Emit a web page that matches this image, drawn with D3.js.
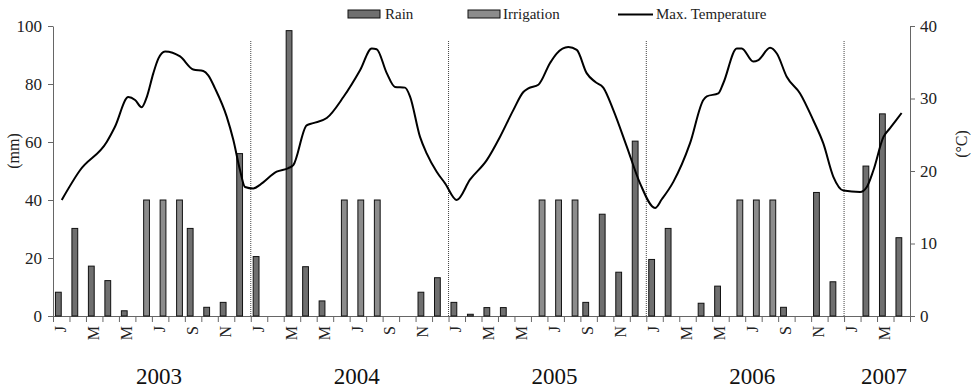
<!DOCTYPE html>
<html>
<head>
<meta charset="utf-8">
<script src="https://cdn.jsdelivr.net/npm/d3@7"></script>
<style>
   body { margin: 0; background: #fff; }
   svg { display: block; }
   text { font-family: "Liberation Serif", "Times New Roman", serif; }
</style>
</head>
<body>
<script>
"use strict"

const years = [2003, 2004, 2005, 2006, 2007]
const monthLetters = ['J', 'F', 'M', 'A', 'M', 'J', 'J', 'A', 'S', 'O', 'N', 'D']
const monthsInYear = [12, 12, 12, 12, 4]

// mm per month, Jan 2003 .. Apr 2007
const rain = [
   8.2, 30.2, 17.2, 12.2, 1.8, 0, 0, 0, 30.2, 3.0, 4.7, 56,
   20.5, 0, 98.4, 17.0, 5.2, 0, 0, 0, 0, 0, 8.2, 13.2,
   4.7, 0.6, 2.9, 2.9, 0, 0, 0, 0, 4.7, 35.1, 15.1, 60.3,
   19.5, 30.2, 0, 4.4, 10.3, 0, 0, 0, 3.0, 0, 42.6, 11.8,
   0, 51.7, 69.7, 27.0
]
const irrigation = [
   0, 0, 0, 0, 0, 40, 40, 40, 0, 0, 0, 0,
   0, 0, 0, 0, 0, 40, 40, 40, 0, 0, 0, 0,
   0, 0, 0, 0, 0, 40, 40, 40, 0, 0, 0, 0,
   0, 0, 0, 0, 0, 40, 40, 40, 0, 0, 0, 0,
   0, 0, 0, 0
]

// max temperature, position in months from start of Jan 2003
const tempMonth = [
   0.53, 1.64, 3.26, 3.76, 4.57, 4.98, 5.38, 5.69, 6.09, 6.39, 6.80, 7.71,
   8.51, 9.12, 9.42, 9.83, 10.54, 10.94, 11.35, 11.65, 12.15, 12.56, 13.57, 14.28,
   14.58, 15.39, 15.79, 16.61, 17.62, 18.63, 19.34, 19.64, 20.25, 20.75, 21.36, 21.66,
   22.27, 22.68, 23.28, 23.79, 24.50, 25.30, 26.32, 27.12, 27.93, 28.54, 28.84, 29.45,
   30.16, 30.56, 31.27, 31.78, 32.38, 32.89, 33.39, 34.00, 34.81, 35.62, 36.53, 36.94,
   37.64, 38.65, 39.46, 39.67, 40.37, 40.67, 41.49, 41.79, 42.49, 42.80, 43.51, 43.92,
   44.52, 45.33, 46.13, 46.74, 47.35, 47.96, 48.97, 49.38, 49.78, 50.39, 50.79, 51.49
]
const tempMax = [
   16.0, 20.1, 24.0, 26.1, 30.2, 29.8, 28.8, 30.2, 33.5, 35.5, 36.5, 35.8,
   34.0, 33.8, 33.2, 31.4, 27.5, 24.3, 20.1, 17.8, 17.6, 18.1, 19.9, 20.4,
   20.8, 26.3, 26.6, 27.3, 30.2, 33.9, 36.9, 36.8, 33.5, 31.6, 31.5, 30.3,
   24.7, 22.4, 19.9, 18.3, 16.0, 18.8, 21.5, 24.7, 28.4, 30.9, 31.4, 31.9,
   34.9, 36.2, 37.1, 36.7, 33.5, 32.3, 31.5, 28.4, 23.4, 18.3, 14.9, 16.1,
   18.5, 23.8, 29.8, 30.3, 30.7, 32.1, 36.9, 36.9, 35.1, 35.3, 37.0, 36.2,
   33.0, 30.7, 27.0, 23.8, 19.2, 17.3, 17.1, 17.8, 20.1, 24.7, 25.9, 28.0
]

const mmTicks = [0, 20, 40, 60, 80, 100]
const degTicks = [0, 10, 20, 30, 40]

const w = 972
const h = 390
const x0 = 53
const x1 = 910
const y_top = 26
const y_bot = 316
const serif = '"Liberation Serif", "Times New Roman", serif'

const months = []
years.forEach((y, yi) => {
   for (let m = 0; m < monthsInYear[yi]; m++) {
      months.push({ year: y, letter: monthLetters[m], index: months.length })
   }
})

const x_band = d3.scaleBand(d3.range(months.length), [x0, x1]).padding(0)
const x_lin = d3.scaleLinear([0, months.length], [x0, x1])
const bw = x_band.bandwidth()
const x_sub = d3.scaleBand(['rain', 'irrigation'], [bw / 2 - 5.8, bw / 2 + 5.8])
const y_mm = d3.scaleLinear([0, 100], [y_bot, y_top])
const y_deg = d3.scaleLinear([0, 40], [y_bot, y_top])

let svg = d3.select('body')
   .append('svg')
      .attr('width', w)
      .attr('height', h)
      .attr('font-family', serif)

svg.append('rect')
   .attr('width', w)
   .attr('height', h)
   .attr('fill', '#fff')

// x axis: ticks between months
let xa = svg.append('g')
   .attr('transform', `translate(0, ${y_bot})`)
   .call(d3.axisBottom(x_lin).tickValues(d3.range(months.length + 1)).tickFormat('').tickSize(6).tickSizeOuter(0))
xa.selectAll('path, line').attr('stroke', '#666')

svg.append('g')
   .selectAll('text')
   .data(months.filter(d => d.index % 2 === 0))
   .enter()
   .append('text')
      .attr('transform', d => `translate(${x_band(d.index) + bw / 2 - 1}, 326) rotate(-90)`)
      .attr('text-anchor', 'end')
      .attr('dy', '0.35em')
      .attr('font-size', 16)
      .attr('font-family', serif)
      .attr('fill', '#222')
      .text(d => d.letter)

let yl = svg.append('g')
   .attr('transform', `translate(${x0}, 0)`)
   .call(d3.axisLeft(y_mm).tickValues(mmTicks).tickSize(5).tickSizeOuter(0).tickPadding(6))
yl.attr('font-family', serif)
yl.selectAll('path, line').attr('stroke', '#666')
yl.selectAll('text').attr('font-size', 17).attr('fill', '#222').attr('font-family', serif)

let yr = svg.append('g')
   .attr('transform', `translate(${x1}, 0)`)
   .call(d3.axisRight(y_deg).tickValues(degTicks).tickSize(5).tickSizeOuter(0).tickPadding(5))
yr.attr('font-family', serif)
yr.selectAll('path, line').attr('stroke', '#666')
yr.selectAll('text').attr('font-size', 17).attr('fill', '#222').attr('font-family', serif)

svg.append('text')
   .attr('transform', 'translate(13, 151) rotate(-90)')
   .attr('text-anchor', 'middle')
   .attr('dy', '0.35em')
   .attr('font-size', 16)
   .attr('fill', '#222')
   .text('(mm)')

svg.append('text')
   .attr('transform', 'translate(961, 144) rotate(-90)')
   .attr('text-anchor', 'middle')
   .attr('dy', '0.35em')
   .attr('font-size', 16)
   .attr('fill', '#222')
   .text('(°C)')

// year separators
svg.append('g')
   .selectAll('line')
   .data(d3.range(1, years.length).map(i => d3.sum(monthsInYear.slice(0, i))))
   .enter()
   .append('line')
      .attr('x1', d => x_lin(d))
      .attr('x2', d => x_lin(d))
      .attr('y1', 41)
      .attr('y2', y_bot)
      .attr('stroke', '#444')
      .attr('stroke-width', 1)
      .attr('stroke-dasharray', '1,1')

const fills = { rain: '#6f6f6f', irrigation: '#8c8c8c' }
const series = [['rain', rain], ['irrigation', irrigation]]

series.forEach(([key, vals]) => {
   svg.append('g')
      .selectAll('rect')
      .data(vals.map((v, i) => ({ i, v })).filter(d => d.v > 0))
      .enter()
      .append('rect')
         .attr('x', d => x_band(d.i) + x_sub(key))
         .attr('y', d => y_mm(d.v))
         .attr('width', x_sub.bandwidth())
         .attr('height', d => y_bot - y_mm(d.v))
         .attr('fill', fills[key])
         .attr('stroke', '#111')
         .attr('stroke-width', 1)
})

const line = d3.line()
   .x(d => x_lin(d[0]))
   .y(d => y_deg(d[1]))
   .curve(d3.curveMonotoneX)

svg.append('path')
   .datum(tempMonth.map((m, i) => [m, tempMax[i]]))
   .attr('d', line)
   .attr('fill', 'none')
   .attr('stroke', '#000')
   .attr('stroke-width', 2)

// year labels under each block of months
let start = 0
years.forEach((y, yi) => {
   const n = monthsInYear[yi]
   svg.append('text')
      .attr('x', x_lin(start + n / 2) + 7)
      .attr('y', 384)
      .attr('text-anchor', 'middle')
      .attr('font-size', 23)
      .attr('fill', '#111')
      .text(y)
   start += n
})

// legend
let legend = svg.append('g').attr('font-size', 15).attr('fill', '#222')
legend.append('rect').attr('x', 348).attr('y', 10).attr('width', 32).attr('height', 8)
   .attr('fill', fills.rain).attr('stroke', '#111')
legend.append('text').attr('x', 385).attr('y', 19).text('Rain')
legend.append('rect').attr('x', 468).attr('y', 10).attr('width', 32).attr('height', 8)
   .attr('fill', fills.irrigation).attr('stroke', '#111')
legend.append('text').attr('x', 503).attr('y', 19).text('Irrigation')
legend.append('line').attr('x1', 618).attr('x2', 653).attr('y1', 14.5).attr('y2', 14.5)
   .attr('stroke', '#000').attr('stroke-width', 2)
legend.append('text').attr('x', 656).attr('y', 19).text('Max. Temperature')
</script>
</body>
</html>
